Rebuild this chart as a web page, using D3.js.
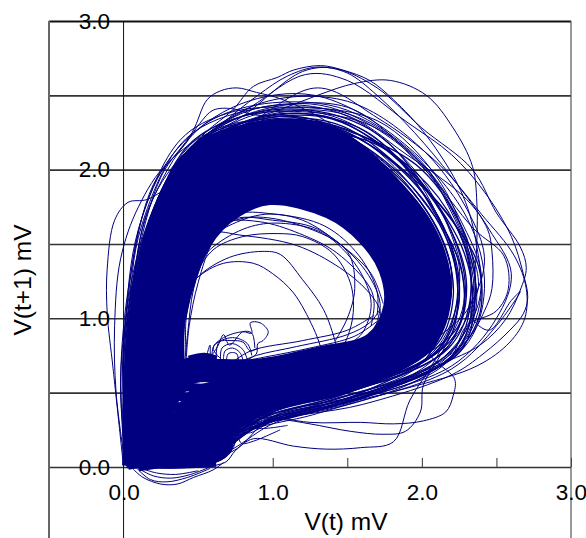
<!DOCTYPE html>
<html><head><meta charset="utf-8">
<script src="https://cdn.jsdelivr.net/npm/d3@7/dist/d3.min.js"></script>
<style>html,body{margin:0;background:#fff}svg{display:block}text{font-family:"Liberation Sans",Arial,sans-serif;fill:#000}</style>
</head><body><div id="c"></div>
<script>
const gridTicks=[0,0.5,1,1.5,2,2.5,3];
const yLabelTicks=[0,1,2,3];
const xLabelTicks=[0,1,2,3];
const xMarkTicks=[-0.5,0.5,1,1.5,2,2.5,3];
const xTitle="V(t) mV", yTitle="V(t+1) mV";

// Densely overplotted cycles: ordered from the outer to the inner edge of the band
const denseCycles=[
[[.02,.01],[.025,.4],[.05,.85],[.1,1.25],[.19,1.62],[.3,1.9],[.5,2.16],[.7,2.25]],
[[.04,.1],[.06,.6],[.09,1],[.16,1.4],[.28,1.78],[.46,2.06]],
[[.04,.03],[.05,.5],[.09,1],[.2,1.61],[.49,2.13],[.93,2.3],[1.38,2.27],[1.8,1.94],[2.08,1.54],[2.15,1.14],[2.03,.8],[1.47,.52],[.98,.4],[.7,.24],[.48,.08],[.1,0]],
[[.05,.04],[.08,.5],[.11,1],[.23,1.6],[.51,2.1],[.93,2.26],[1.38,2.22],[1.81,1.92],[2.09,1.53],[2.16,1.14],[2.04,.8],[1.47,.54],[.98,.42],[.69,.28],[.47,.11],[.1,.01]],
[[.05,.02],[.1,.5],[.13,1],[.25,1.6],[.53,2.06],[.94,2.21],[1.39,2.19],[1.83,1.9],[2.1,1.52],[2.17,1.13],[2.04,.81],[1.46,.57],[.98,.45],[.68,.32],[.46,.14],[.1,.01]],
[[.06,.05],[.12,.5],[.16,1],[.28,1.59],[.55,2.03],[.94,2.17],[1.39,2.14],[1.81,1.87],[2.06,1.5],[2.13,1.13],[2,.82],[1.44,.59],[.97,.47],[.67,.36],[.44,.17],[.1,.02]],
[[.07,.05],[.15,.5],[.18,1],[.31,1.58],[.57,1.99],[.95,2.13],[1.38,2.09],[1.78,1.83],[2.03,1.48],[2.09,1.12],[1.96,.82],[1.43,.61],[.96,.5],[.66,.4],[.43,.2],[.1,.02]],
[[.08,.06],[.17,.5],[.2,1],[.34,1.57],[.59,1.96],[.95,2.08],[1.38,2.04],[1.76,1.79],[1.99,1.46],[2.05,1.12],[1.92,.83],[1.41,.63],[.95,.52],[.65,.44],[.42,.23],[.1,.03]],
[[.08,.06],[.19,.5],[.22,1],[.37,1.56],[.61,1.92],[.96,2.03],[1.38,1.99],[1.74,1.75],[1.96,1.44],[2.01,1.11],[1.89,.84],[1.4,.65],[.95,.55],[.64,.48],[.41,.26],[.1,.03]],
[[.09,.06],[.21,.5],[.24,1],[.4,1.56],[.62,1.89],[.96,1.99],[1.37,1.94],[1.72,1.71],[1.92,1.42],[1.97,1.11],[1.85,.84],[1.38,.67],[.93,.58],[.62,.52],[.39,.29],[.1,.03]],
[[.1,.07],[.24,.5],[.27,1],[.43,1.55],[.64,1.85],[.96,1.94],[1.37,1.89],[1.69,1.68],[1.89,1.4],[1.93,1.1],[1.81,.85],[1.36,.69],[.93,.6],[.61,.56],[.38,.32],[.1,.04]],
[[.1,.07],[.27,.5],[.3,1],[.47,1.54],[.67,1.81],[.97,1.89],[1.37,1.84],[1.67,1.64],[1.85,1.38],[1.89,1.09],[1.77,.86],[1.35,.71],[.92,.63],[.6,.6],[.4,.58],[.28,.35],[.1,.04]],
[[.11,.07],[.3,.5],[.33,1],[.5,1.54],[.7,1.77],[.97,1.85],[1.37,1.79],[1.65,1.6],[1.81,1.36],[1.85,1.09],[1.73,.86],[1.33,.74],[.91,.65],[.59,.64],[.42,.62],[.29,.38],[.1,.05]],
[[.12,.08],[.33,.5],[.36,1],[.53,1.52],[.72,1.74],[.98,1.82],[1.37,1.74],[1.62,1.56],[1.78,1.34],[1.81,1.08],[1.69,.87],[1.32,.76],[.9,.68],[.58,.67],[.42,.66],[.3,.42],[.1,.05]],
[[.12,.08],[.36,.5],[.39,1],[.56,1.5],[.75,1.7],[.98,1.79],[1.37,1.7],[1.6,1.53],[1.74,1.32],[1.77,1.08],[1.65,.87],[1.3,.78],[.9,.7],[.57,.7],[.42,.7],[.3,.45],[.1,.05]],
[[.02,.01],[.05,.3],[.05,.7],[.12,.5],[.1,.1],[.02,.01]],
[[.7,.28],[.7,.12],[.6,.05],[.4,.02],[.15,.02]],
[[.66,.3],[.64,.14],[.5,.08],[.3,.05],[.12,.03]],
[[.3,.62],[.55,.6],[.8,.57]],
[[.28,.54],[.55,.53],[.8,.5]],
[[.26,.47],[.55,.47],[.78,.44]],
[[.24,.41],[.55,.4],[.75,.38]],
[[.2,.34],[.5,.34],[.73,.32]],
[[.18,.27],[.5,.27],[.72,.26]],
[[.15,.2],[.5,.2],[.72,.19]],
[[.13,.13],[.5,.13],[.7,.13]],
[[.1,.06],[.4,.06],[.63,.07]],
[[.1,.05],[.25,.3],[.45,.58],[.6,.6]],
[[.1,.04],[.3,.28],[.5,.52],[.65,.54]],
[[.12,.1],[.35,.25],[.5,.42],[.65,.45]],
[[.12,.06],[.3,.12],[.45,.3],[.6,.38]],
[[.03,.01],[.1,.02],[.25,.03]],
[[.02,.02],[.2,.02],[.45,.02],[.62,.03]],
[[.44,.72],[.54,.74],[.62,.72]]
];

// Streaky edge of the dense band
const edgeCycles=[
[[.02,.01],[.03,.5],[.07,1],[.17,1.62],[.47,2.17],[.92,2.34],[1.4,2.34],[1.9,2.02],[2.2,1.58],[2.29,1.15],[2.15,.78],[1.5,.5],[1,.37],[.72,.2],[.5,.05],[.1,0]],
[[.04,.03],[.05,.5],[.09,1],[.2,1.61],[.49,2.13],[.93,2.3],[1.4,2.29],[1.88,1.98],[2.17,1.56],[2.25,1.14],[2.11,.79],[1.49,.52],[.99,.4],[.71,.24],[.49,.08],[.1,0]],
[[.05,.04],[.08,.5],[.11,1],[.23,1.6],[.51,2.1],[.93,2.26],[1.39,2.24],[1.85,1.94],[2.13,1.54],[2.21,1.14],[2.08,.8],[1.47,.54],[.98,.42],[.69,.28],[.47,.11],[.1,.01]],
[[.02,.02],[.04,.5],[.08,1],[.19,1.6],[.48,2.14],[.85,2.33],[1.35,2.36],[1.8,2.1],[2.16,1.66],[2.3,1.22],[2.2,.86],[1.52,.47],[1.03,.35],[.74,.17],[.52,.03],[.1,0]],
[[.03,.02],[.06,.5],[.1,1],[.22,1.64],[.5,2.12],[.9,2.27],[1.3,2.3],[1.75,2.06],[2.12,1.63],[2.24,1.2],[2.16,.83],[1.48,.49],[1.01,.36],[.72,.22],[.5,.06],[.1,0]],
[[.03,.02],[.07,.5],[.12,1],[.24,1.62],[.52,2.08],[.97,2.25],[1.45,2.26],[1.92,1.95],[2.19,1.5],[2.23,1.08],[2.07,.75],[1.45,.51],[.96,.41],[.7,.26],[.48,.09],[.1,0]],
[[.02,.02],[.06,.55],[.09,1.05],[.21,1.66],[.46,2.1],[.88,2.32],[1.42,2.31],[1.84,2.03],[2.24,1.6],[2.33,1.18],[2.18,.8],[1.56,.52],[1.05,.39],[.76,.22],[.54,.06],[.1,0]],
[[.03,.03],[.05,.45],[.08,.95],[.2,1.55],[.44,2.12],[.86,2.28],[1.36,2.26],[1.78,2.12],[2.09,1.7],[2.27,1.3],[2.24,.94],[1.6,.55],[1.08,.4],[.78,.28],[.56,.05],[.1,0]],
[[.02,.02],[.03,.55],[.06,1.05],[.16,1.58],[.43,2.16],[.8,2.36],[1.25,2.4],[1.7,2.24],[2.03,1.87],[2.28,1.45],[2.34,1.1],[2.22,.76],[1.62,.47],[1.1,.35],[.8,.24],[.6,.07],[.1,0]],
[[.03,.03],[.04,.6],[.1,1.1],[.23,1.68],[.55,2.14],[1,2.33],[1.5,2.27],[1.96,1.98],[2.23,1.62],[2.33,1.25],[2.26,.86],[2.06,.68],[1.44,.46],[.95,.34],[.7,.16],[.1,0]],
[[.03,.02],[.05,.55],[.08,1.08],[.18,1.66],[.44,2.08],[.76,2.3],[1.16,2.38],[1.62,2.26],[1.98,1.92],[2.2,1.66],[2.38,1.35],[2.38,1],[2.18,.72],[1.68,.5],[1.12,.33],[.8,.26],[.58,.05],[.1,0]],
[[.02,.02],[.06,.5],[.12,1.08],[.26,1.72],[.58,2.18],[1.06,2.36],[1.56,2.24],[2,2],[2.3,1.54],[2.36,1.18],[2.26,.78],[1.78,.55],[1.2,.38],[.82,.28],[.62,.04],[.1,0]]
];

// Individually visible cycles along the outer fringe
const outerCycles=[
[[0,0],[-.07,.66],[-.11,1.04],[-.11,1.33],[-.06,1.66],[.03,1.78],[.16,1.8],[.4,1.95],[.9,2.2],[1.5,2.1],[2,1.6],[2.1,1],[1.6,.6],[.9,.4],[.4,.1],[.05,.02]],
[[.01,.02],[-.05,.5],[-.06,.95],[-.02,1.4],[.1,1.75],[.3,2.05],[.7,2.3],[1.3,2.3],[1.9,1.9],[2.2,1.3],[2,.7],[1.3,.42],[.7,.18],[.4,.02],[.05,0]],
[[.02,.02],[0,.7],[.07,1.3],[.25,1.95],[.46,2.25],[.56,2.47],[.65,2.53],[.76,2.55],[.89,2.52],[1.07,2.47],[1.4,2.3],[1.9,1.9],[2.2,1.3],[2,.7],[1.2,.45],[.6,.2],[.1,0]],
[[.01,.02],[-.02,.6],[.04,1.25],[.2,1.9],[.42,2.18],[.51,2.31],[.6,2.4],[.73,2.41],[.87,2.37],[1.15,2.35],[1.6,2.2],[2,1.8],[2.25,1.35],[2.1,.8],[1.5,.5],[.8,.28],[.45,.03],[.08,0]],
[[.02,.03],[.0,.8],[.1,1.45],[.33,2],[.55,2.25],[.73,2.4],[.87,2.56],[1.03,2.62],[1.14,2.67],[1.32,2.7],[1.47,2.67],[1.65,2.6],[1.81,2.47],[2.03,2.23],[2.26,1.86],[2.36,1.53],[2.38,1.1],[2.1,.7],[1.4,.45],[.8,.26],[.5,.04],[.1,0]],
[[.03,.03],[.02,.9],[.14,1.55],[.38,2.05],[.65,2.3],[.9,2.5],[1.1,2.63],[1.3,2.69],[1.5,2.65],[1.7,2.5],[1.95,2.25],[2.2,1.95],[2.45,1.6],[2.6,1.3],[2.5,1],[2.2,.68],[1.5,.44],[.9,.27],[.55,.05],[.1,0]],
[[.02,.02],[.01,.85],[.13,1.5],[.4,2.1],[.75,2.3],[1.04,2.4],[1.3,2.5],[1.55,2.58],[1.79,2.6],[2.03,2.5],[2.21,2.28],[2.34,2.02],[2.37,1.75],[2.37,1.57],[2.36,1.37],[2.3,1],[2,.66],[1.3,.4],[.75,.22],[.5,.03],[.1,0]],
[[.03,.02],[.03,.9],[.15,1.6],[.42,2.12],[.8,2.36],[1.2,2.66],[1.42,2.68],[1.7,2.55],[2,2.28],[2.34,2],[2.5,1.71],[2.66,1.48],[2.7,1.34],[2.66,1.19],[2.56,.99],[2.39,.82],[2.12,.69],[1.58,.48],[.95,.3],[.6,.08],[.1,0]],
[[.02,.03],[.02,.85],[.16,1.62],[.44,2.16],[.85,2.42],[1.22,2.64],[1.5,2.6],[1.9,2.32],[2.2,2.1],[2.42,1.85],[2.6,1.55],[2.68,1.3],[2.71,1.14],[2.68,1.03],[2.59,.92],[2.41,.76],[2.2,.62],[1.6,.42],[.9,.28],[.55,.05],[.1,0]],
[[.03,.03],[.04,.9],[.18,1.62],[.46,2.12],[.85,2.32],[1.3,2.55],[1.7,2.35],[2.1,2.05],[2.4,1.7],[2.62,1.42],[2.7,1.2],[2.69,1],[2.59,.84],[2.37,.68],[1.9,.53],[1.2,.36],[.7,.2],[.45,.02],[.1,0]],
[[.04,.03],[.05,.9],[.2,1.6],[.48,2.1],[.9,2.35],[1.45,2.38],[1.9,2.1],[2.3,1.8],[2.44,1.6],[2.47,1.45],[2.47,1.2],[2.42,1.05],[2.3,.85],[2,.64],[1.4,.42],[.8,.26],[.5,.03],[.1,0]],
[[.03,.03],[.04,.8],[.16,1.55],[.45,2.12],[.85,2.38],[1.5,2.42],[2,2.02],[2.35,1.6],[2.55,1.42],[2.58,1.2],[2.5,1.05],[2.3,.95],[2.18,.72],[1.7,.5],[1,.33],[.6,.1],[.1,0]],
[[.03,.03],[.03,.75],[.15,1.5],[.44,2.14],[.95,2.4],[1.55,2.36],[2.05,1.98],[2.33,1.45],[2.38,1.22],[2.33,1.02],[2.45,.92],[2.6,1.12],[2.66,1.18],[2.5,.95],[2.2,.66],[1.5,.42],[.85,.26],[.5,.03],[.1,0]],
[[.03,.03],[.02,.6],[.1,1.3],[.38,2.05],[.9,2.44],[1.5,2.46],[2.02,2.12],[2.33,1.68],[2.42,1.38],[2.3,1.05],[2.05,.78],[2.22,.59],[2.21,.48],[2.16,.37],[2.01,.31],[1.81,.29],[1.59,.3],[1.25,.3],[.91,.35],[.75,.33],[.6,.1],[.1,0]],
[[.02,.03],[.01,.55],[.08,1.2],[.36,2.02],[.85,2.4],[1.45,2.38],[1.95,2],[2.22,1.5],[2.28,1.1],[2.14,.78],[2.01,.55],[1.99,.37],[1.89,.24],[1.74,.22],[1.52,.24],[1.25,.29],[1.05,.32],[.82,.32],[.72,.2],[.55,.04],[.1,0]],
[[.03,.04],[.02,.6],[.1,1.25],[.34,1.98],[.85,2.36],[1.4,2.36],[1.9,2.02],[2.18,1.5],[2.25,1.1],[2.1,.74],[1.92,.45],[1.81,.17],[1.59,.13],[1.36,.12],[1.14,.14],[.87,.19],[.75,.11],[.68,.03],[.4,.0],[.1,0]],
[[.02,.02],[.0,.45],[.03,1],[.12,1.62],[.42,2.21],[.88,2.41],[1.38,2.42],[1.95,2.08],[2.26,1.6],[2.36,1.15],[2.2,.75],[1.55,.46],[1,.32],[.7,.15],[.45,.02],[.1,0]],
[[.02,.02],[-.02,.55],[.02,1.05],[.13,1.7],[.36,2.14],[.78,2.44],[1.28,2.5],[1.85,2.2],[2.3,1.68],[2.42,1.2],[2.28,.8],[1.6,.46],[1.02,.3],[.73,.12],[.5,.01],[.08,0]],
[[.01,.02],[-.01,.5],[.01,.95],[.1,1.6],[.38,2.2],[.7,2.38],[1.1,2.42],[1.7,2.33],[2.1,1.95],[2.3,1.5],[2.36,1.05],[2.14,.68],[1.45,.42],[.9,.28],[.62,.08],[.1,0]],
[[.03,.03],[.01,.6],[.06,1.15],[.16,1.72],[.4,2.1],[.8,2.36],[1.6,2.32],[2.02,2.02],[2.28,1.62],[2.4,1.28],[2.32,.9],[2,.6],[1.3,.36],[.8,.22],[.66,.05],[.1,0]],
[[.02,.03],[.02,.55],[.05,1.1],[.15,1.68],[.4,2.16],[.6,2.34],[1,2.45],[1.5,2.4],[2,2.05],[2.18,1.75],[2.32,1.4],[2.34,1.05],[2.15,.72],[1.65,.5],[1,.34],[.72,.1],[.1,0]]
];

// Cycles that run through the central hole
const holeCycles=[
[[.36,1.1],[.49,1.27],[.67,1.37],[.87,1.37],[1,1.3],[1.14,1.17],[1.27,.94],[1.32,.81],[1.34,.72]],
[[.38,1.1],[.5,1.28],[.71,1.41],[.93,1.45],[1.05,1.43],[1.2,1.26],[1.34,1.06],[1.42,.84],[1.44,.74]],
[[.42,1.2],[.6,1.46],[.8,1.55],[1.03,1.57],[1.2,1.55],[1.4,1.44],[1.52,1.24],[1.54,1.04],[1.5,.87],[1.44,.76]],
[[.46,1.35],[.6,1.57],[.78,1.56],[1.16,1.49],[1.45,1.34],[1.63,1.19],[1.72,1.05],[1.7,.9]],
[[.5,1.45],[.67,1.64],[.91,1.65],[1.18,1.57],[1.43,1.44],[1.65,1.21],[1.68,1.1],[1.66,.95]],
[[.44,1.3],[.6,1.48],[.83,1.61],[1.05,1.64],[1.34,1.57],[1.57,1.34],[1.66,1.1],[1.6,.9],[1.5,.82]],
[[.55,1.52],[.75,1.67],[1,1.66],[1.3,1.6],[1.6,1.35],[1.72,1.1],[1.68,.92]],
[[.52,1.5],[.7,1.62],[.95,1.7],[1.2,1.66],[1.45,1.5],[1.66,1.3],[1.74,1.1]],
[[.48,1.42],[.72,1.69],[1.02,1.7],[1.35,1.62],[1.58,1.42],[1.7,1.18],[1.7,1.02]],
[[.53,1.58],[.85,1.68],[1.2,1.62],[1.5,1.45],[1.55,1.2],[1.5,1.0],[1.42,.85]],
[[.72,.68],[.89,.75],[1.16,.81],[1.5,.89],[1.65,.97],[1.72,1.06]],
[[.7,.68],[.85,.78],[1.2,.85],[1.5,.92],[1.68,1.02]],
[[.74,.7],[.95,.74],[1.25,.8],[1.55,.88],[1.7,.98]],
[[.42,.75],[.42,1],[.5,1.33],[.62,1.57],[.75,1.68]],
[[.4,.75],[.41,1],[.47,1.3],[.58,1.54],[.74,1.71]],
[[.42,.72],[.44,.95],[.5,1.24],[.6,1.52],[.72,1.66]],
[[.41,.7],[.43,.9],[.47,1.2],[.56,1.45],[.7,1.66]]
];

// The small loop and spiral where the hole meets the lower branch
const spiralStrands=[
[[.78,.7],[.89,.76],[.9,.83],[.935,.85],[.97,.91],[.915,.97],[.85,.97],[.86,.9],[.8,.91],[.67,.87],[.6,.8],[.66,.72]],
[[.65,.72],[.66,.8],[.73,.83],[.8,.79],[.83,.72]],
[[.67,.72],[.68,.78],[.73,.8],[.78,.77],[.8,.72]],
[[.69,.72],[.7,.76],[.73,.77],[.76,.76],[.77,.72]],
[[.59,.72],[.61,.82],[.73,.87],[.83,.83],[.86,.75]],
[[.55,.72],[.58,.82],[.585,.75],[.63,.81],[.67,.89],[.71,.82],[.8,.91],[.86,.9],[.88,.8]],
[[.62,.72],[.64,.84],[.72,.85],[.8,.84],[.85,.78],[.9,.8]]
];

// Dips below zero and small strands at the foot of the figure
const footStrands=[
[[.67,.03],[.6,-.02],[.47,-.07],[.36,-.115],[.25,-.115],[.13,-.07],[.06,-.01]],
[[.58,-.01],[.43,-.07],[.29,-.1],[.18,-.085],[.09,-.01]],
[[.58,0],[.45,-.05],[.32,-.075],[.2,-.06],[.1,-.01]],
[[.5,-.025],[.35,-.05],[.22,-.04],[.12,-.01]],
[[1,.32],[.85,.23],[.76,.24],[.74,.14],[.68,.07]],
[[1.1,.28],[.9,.26],[.8,.3],[.75,.2],[.72,.12]],
[[1.05,.25],[.86,.17],[.79,.16],[.76,.25],[.75,.32]]
];

const W=586,H=538;
const x=d3.scaleLinear().domain([-0.5,3]).range([49,571]);
const y=d3.scaleLinear().domain([-0.5,3]).range([541.3,21]);
const svg=d3.select("#c").append("svg").attr("width",W).attr("height",H);
const axisColor="#333";

// grid
const gridAxis=d3.axisLeft(y).tickValues(gridTicks).tickSize(-(x(3)-x(-0.5))).tickFormat("");
const gridG=svg.append("g").attr("transform",`translate(${x(-0.5)},0)`).call(gridAxis);
gridG.select(".domain").remove();
gridG.selectAll("line").attr("stroke",axisColor).attr("stroke-width",1.6);
gridG.selectAll(".tick").filter(d=>d===3).select("line").attr("stroke","#111").attr("stroke-width",2);

// x ticks upward from zero line
const xMarks=svg.append("g").attr("transform",`translate(0,${y(0)})`).call(d3.axisTop(x).tickValues(xMarkTicks).tickSize(9).tickFormat(""));
xMarks.select(".domain").remove();
xMarks.selectAll("line").attr("stroke",axisColor).attr("stroke-width",1);

// frame and zero line
svg.append("line").attr("x1",x(-0.5)).attr("x2",x(-0.5)).attr("y1",y(3)).attr("y2",H).attr("stroke","#666").attr("stroke-width",2);
svg.append("line").attr("x1",x(3)).attr("x2",x(3)).attr("y1",y(3)).attr("y2",H).attr("stroke","#555").attr("stroke-width",1.2);
svg.append("line").attr("x1",x(0)).attr("x2",x(0)).attr("y1",y(3)).attr("y2",H).attr("stroke","#111").attr("stroke-width",1);

// trajectories
const line=d3.line().x(d=>x(d[0])).y(d=>y(d[1])).curve(d3.curveCatmullRom.alpha(0.5));
const navy="#000080";
function draw(sets,w){
  svg.append("g").attr("fill","none").attr("stroke",navy).attr("stroke-width",w).attr("stroke-linejoin","round")
    .selectAll("path").data(sets).join("path").attr("d",line);
}
draw(denseCycles,8.5);
draw(edgeCycles,1.3);
draw(outerCycles,1);
draw(holeCycles,1);
draw(spiralStrands,1);
draw(footStrands,1);

// tick labels
const FS=22.5;
const yLab=svg.append("g").attr("transform",`translate(${x(0)},0)`).call(d3.axisLeft(y).tickValues(yLabelTicks).tickSize(0).tickPadding(13.5).tickFormat(d3.format(".1f")));
yLab.select(".domain").remove();
yLab.selectAll("text").attr("font-size",FS).attr("font-family",'"Liberation Sans",Arial,sans-serif').attr("fill","#000");
const xLab=svg.append("g").attr("transform",`translate(0,${y(0)})`).call(d3.axisBottom(x).tickValues(xLabelTicks).tickSize(0).tickPadding(17).tickFormat(d3.format(".1f")));
xLab.select(".domain").remove();
xLab.selectAll("text").attr("font-size",FS).attr("font-family",'"Liberation Sans",Arial,sans-serif').attr("fill","#000");

// titles
svg.append("text").attr("x",346).attr("y",530).attr("text-anchor","middle").attr("font-size",24.5).text(xTitle);
svg.append("text").attr("transform","translate(31,280) rotate(-90)").attr("text-anchor","middle").attr("font-size",24.5).text(yTitle);
</script></body></html>
